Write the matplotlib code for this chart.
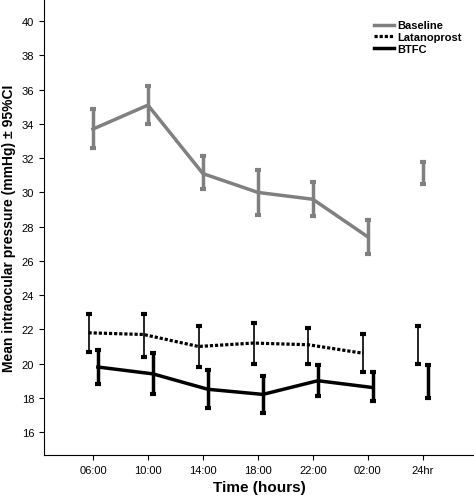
import matplotlib
matplotlib.use("Agg")
import matplotlib.pyplot as plt
import numpy as np
plt.rcParams['font.family'] = ['Liberation Sans', 'DejaVu Sans']

labels = ["06:00", "10:00", "14:00", "18:00", "22:00", "02:00", "24hr"]
base_mean = [33.7, 35.1, 31.1, 30.0, 29.6, 27.4, 31.15]
base_lo = [32.6, 34.0, 30.2, 28.7, 28.6, 26.4, 30.5]
base_hi = [34.9, 36.2, 32.1, 31.3, 30.6, 28.4, 31.8]
lat_mean = [21.8, 21.7, 21.0, 21.2, 21.1, 20.6, 21.1]
lat_lo = [20.7, 20.4, 19.8, 20.0, 20.0, 19.5, 20.0]
lat_hi = [22.9, 22.9, 22.2, 22.4, 22.1, 21.7, 22.2]
btfc_mean = [19.8, 19.4, 18.5, 18.2, 19.0, 18.6, 18.9]
btfc_lo = [18.8, 18.2, 17.4, 17.1, 18.1, 17.8, 18.0]
btfc_hi = [20.8, 20.6, 19.6, 19.3, 19.9, 19.5, 19.9]

fig = plt.figure(figsize=(4.74, 5.02), dpi=100)
ax = fig.add_axes([44/474, 1-456/502, 430/474, 456/502])
x = np.arange(len(labels))

def series(mean, lo, hi, off, color, ls, lw, elw, label):
    xs = x + off
    ax.plot(xs[:6], mean[:6], color=color, ls=ls, lw=lw, label=label)
    ax.vlines(xs, lo, hi, color=color, lw=elw)
    ax.plot(xs, lo, ls='none', marker='_', ms=5, mew=3, color=color)
    ax.plot(xs, hi, ls='none', marker='_', ms=5, mew=3, color=color)

series(base_mean, base_lo, base_hi, 0.0, '#808080', '-', 2.5, 2.5, 'Baseline')
series(lat_mean, lat_lo, lat_hi, -0.08, 'black', (0, (1, 0.6)), 2.3, 1.2, 'Latanoprost')
series(btfc_mean, btfc_lo, btfc_hi, 0.09, 'black', '-', 2.5, 2.5, 'BTFC')

ax.set_xlim(-0.89, 6.93)
ax.set_ylim(14.66, 41.3)
ax.set_yticks(range(16, 41, 2))
ax.set_xticks(x)
ax.set_xticklabels(labels, fontsize=8)
ax.tick_params(axis='y', labelsize=8)
for s in ['top', 'right']:
    ax.spines[s].set_visible(False)
ax.set_xlabel("Time (hours)", fontsize=11, fontweight='bold')
ax.set_ylabel("Mean intraocular pressure (mmHg) ± 95%CI", fontsize=10, fontweight='bold')
leg = ax.legend(loc='upper right', bbox_to_anchor=(0.995, 0.975), frameon=False,
                prop={'weight': 'bold', 'size': 8}, handlelength=1.8, handletextpad=0.3,
                labelspacing=0.15)
fig.savefig("out.png", dpi=100)
